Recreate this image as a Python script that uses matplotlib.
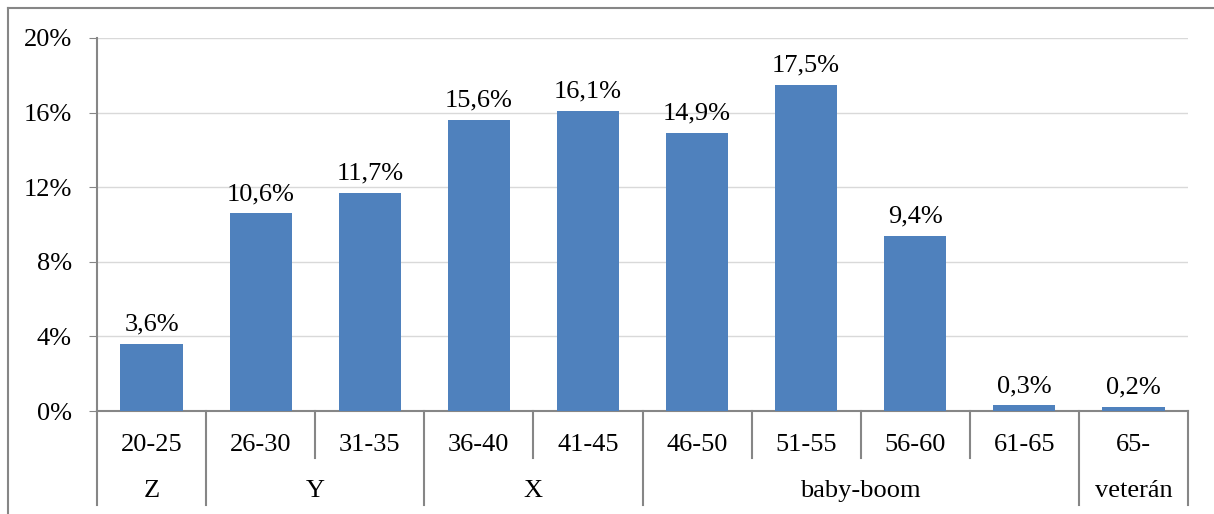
import matplotlib.pyplot as plt
from matplotlib.lines import Line2D
from matplotlib.ticker import FuncFormatter

# Age brackets, generation groups and share of respondents (%)
age_groups = ["20-25", "26-30", "31-35", "36-40", "41-45",
              "46-50", "51-55", "56-60", "61-65", "65-"]
shares = [3.6, 10.6, 11.7, 15.6, 16.1, 14.9, 17.5, 9.4, 0.3, 0.2]
generations = ["Z", "Y", "X", "baby-boom", "veterán"]
generation_spans = [(0, 0), (1, 2), (3, 4), (5, 8), (9, 9)]

plt.rcParams["font.family"] = ["Liberation Serif", "DejaVu Serif"]

bar_color = "#4F81BD"
axis_color = "#868686"
grid_color = "#D9D9D9"
fs = 19

fig = plt.figure(figsize=(12.14, 5.14), dpi=100)
ax = fig.add_axes([97 / 1214, 1 - 411 / 514, (1188 - 97) / 1214, 373 / 514])

x = list(range(len(age_groups)))
ax.bar(x, shares, width=0.57, color=bar_color, zorder=3)

for xi, v in zip(x, shares):
    ax.annotate(f"{v:.1f}%".replace(".", ","), (xi, v), xytext=(0, 6),
                textcoords="offset points", ha="center", va="bottom",
                fontsize=fs)

ax.set_xlim(-0.5, len(age_groups) - 0.5)
ax.set_ylim(0, 20)
ax.set_yticks([0, 4, 8, 12, 16, 20])
ax.yaxis.set_major_formatter(FuncFormatter(lambda v, _: f"{v:.0f}%"))
ax.tick_params(axis="y", length=6, color=axis_color, labelsize=fs, pad=12)
ax.grid(axis="y", color=grid_color, linewidth=1, zorder=0)
ax.set_xticks([])

for side in ("top", "right"):
    ax.spines[side].set_visible(False)
for side in ("left", "bottom"):
    ax.spines[side].set_color(axis_color)
    ax.spines[side].set_linewidth(1.5)

# Two-level category axis: age brackets and generations
trans = ax.get_xaxis_transform()
row1 = -47 / 373
row2 = -94 / 373
for xi, label in zip(x, age_groups):
    ax.text(xi, -34 / 373, label, transform=trans, ha="center", va="center",
            fontsize=fs)

group_edges = set()
for name, (a, b) in zip(generations, generation_spans):
    ax.text((a + b) / 2, -80 / 373, name, transform=trans, ha="center",
            va="center", fontsize=fs)
    group_edges.update([a - 0.5, b + 0.5])

for edge in [i - 0.5 for i in range(len(age_groups) + 1)]:
    bottom = row2 if edge in group_edges else row1
    ax.plot([edge, edge], [0, bottom], transform=trans, color=axis_color,
            linewidth=1.5, clip_on=False)

# Chart frame
fig.add_artist(Line2D([8 / 1214, 1], [1 - 8 / 514, 1 - 8 / 514],
                      transform=fig.transFigure, color=axis_color, linewidth=1.5))
fig.add_artist(Line2D([8 / 1214, 8 / 1214], [0, 1 - 8 / 514],
                      transform=fig.transFigure, color=axis_color, linewidth=1.5))

fig.savefig("out.png", dpi=100)
